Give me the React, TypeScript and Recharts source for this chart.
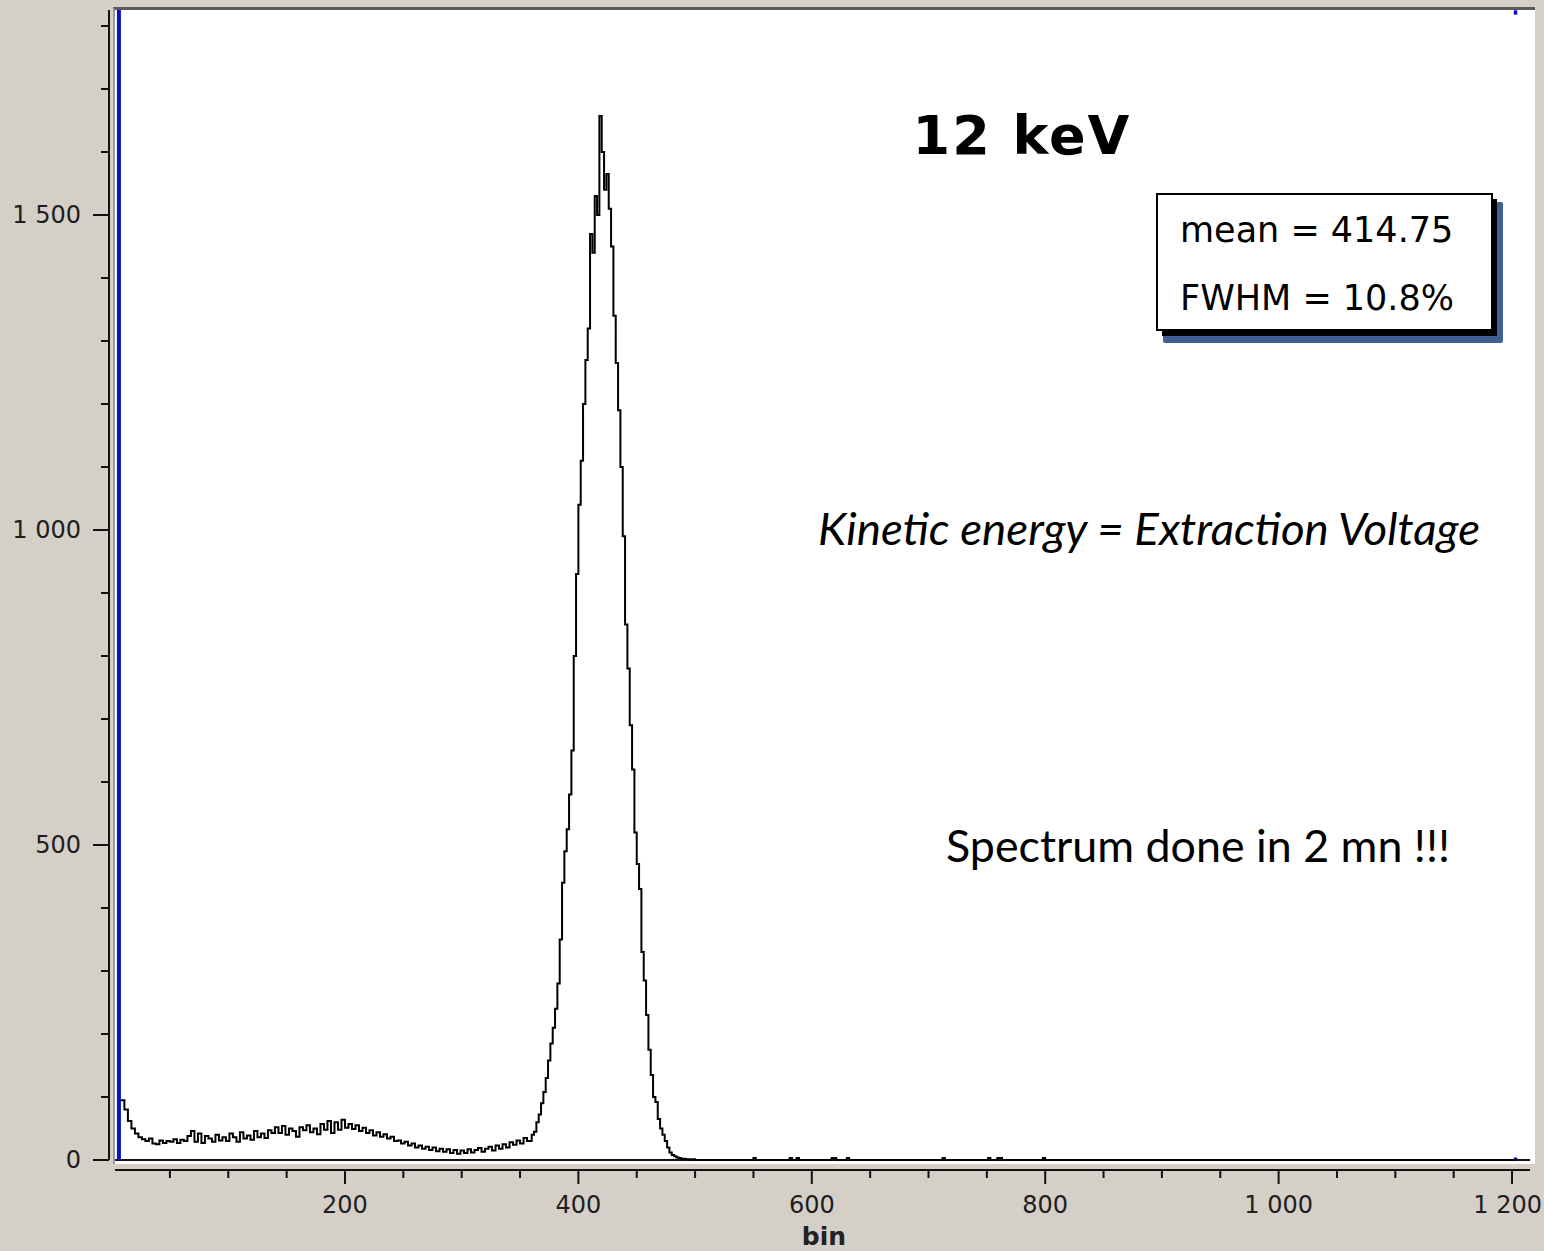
import React from 'react';
import { LineChart, Line, XAxis, YAxis, ReferenceLine, ReferenceArea } from 'recharts';

// low-energy tail, bins of 3 starting at bin 8
const lowStart = 8;
const lowWidth = 3;
const lowCounts = [
  95, 80, 62, 50, 42, 36, 33, 30, 34, 26, 25, 31, 27, 30, 29, 33, 27, 32, 30, 38,
  46, 29, 42, 27, 38, 34, 29, 40, 31, 36, 30, 42, 36, 29, 44, 34, 39, 32, 46, 36,
  42, 35, 47, 43, 52, 43, 54, 40, 50, 46, 37, 52, 47, 55, 44, 50, 41, 57, 48, 62,
  43, 60, 48, 64, 51, 57, 49, 55, 46, 51, 43, 47, 39, 44, 37, 41, 34, 37, 30, 31,
  26, 29, 23, 26, 20, 23, 18, 21, 16, 20, 14, 18, 13, 17, 11, 16, 10, 15, 11, 17,
  12, 16, 19, 13, 18, 21, 15, 23, 18, 25, 20, 28, 24, 31, 26, 35, 30,
];

// photopeak, bins of 2 starting at bin 360
const peakStart = 360;
const peakWidth = 2;
const peakCounts = [
  40, 45, 60, 72, 90, 108, 130, 158, 185, 210, 240, 280, 350, 440, 490, 525, 580, 650, 800, 930,
  1040, 1110, 1200, 1270, 1320, 1470, 1440, 1530, 1500, 1657, 1600, 1540, 1565, 1510, 1450, 1340, 1265, 1190, 1100, 990,
  850, 780, 690, 620, 520, 470, 430, 330, 285, 230, 175, 135, 100, 92, 65, 50, 40, 30, 20, 12,
  8, 6, 4, 3, 2, 2, 1, 1, 0, 1, 0,
];

// sparse high-energy counts
const tailBins = [502, 550, 552, 581, 583, 587, 589, 617, 621, 630, 632, 712, 714, 751, 753, 759, 763, 798, 800, 1202];
const tailCounts = [0, 3, 0, 3, 0, 3, 0, 3, 0, 3, 0, 3, 0, 3, 0, 3, 0, 3, 0, 0];

const xTicks = [50, 100, 150, 200, 250, 300, 350, 400, 450, 500, 550, 600, 650, 700, 750, 800, 850, 900, 950, 1000, 1050, 1100, 1150, 1200];
const xLabels = [200, 400, 600, 800, 1000, 1200];
const yTicks = [0, 100, 200, 300, 400, 500, 600, 700, 800, 900, 1000, 1100, 1200, 1300, 1400, 1500, 1600, 1700, 1800];
const yLabels = [0, 500, 1000, 1500];

const X_MIN = -2.2;
const X_MAX = 1215.4;
const Y_MIN = -15.9;
const Y_MAX = 1825.4;

const data = [
  ...lowCounts.map((c, i) => ({ bin: lowStart + i * lowWidth, count: c })),
  ...peakCounts.map((c, i) => ({ bin: peakStart + i * peakWidth, count: c })),
  ...tailBins.map((b, i) => ({ bin: b, count: tailCounts[i] })),
];

const fmt = (n: number) =>
  n >= 1000 ? `${Math.floor(n / 1000)} ${String(n % 1000).padStart(3, '0')}` : String(n);

const tickFont = '"DejaVu Sans", Verdana, sans-serif';

function XTick(props: any) {
  const { x, y, payload } = props;
  const major = xLabels.includes(payload.value);
  const last = payload.value === xLabels[xLabels.length - 1];
  return (
    <g>
      <line x1={x} x2={x} y1={y} y2={y + (major ? 14 : 8)} stroke="#111" strokeWidth={2} />
      {major && (
        <text
          x={last ? 1542 : x}
          y={y + 43}
          textAnchor={last ? 'end' : 'middle'}
          fontFamily={tickFont}
          fontSize={24}
          fill="#1e1e1e"
        >
          {fmt(payload.value)}
        </text>
      )}
    </g>
  );
}

function YTick(props: any) {
  const { x, y, payload } = props;
  const major = yLabels.includes(payload.value);
  return (
    <g>
      <line x1={x - (major ? 16 : 8)} x2={x} y1={y} y2={y} stroke="#111" strokeWidth={2} />
      {major && (
        <text x={x - 28} y={y + 8} textAnchor="end" fontFamily={tickFont} fontSize={24} fill="#1e1e1e">
          {fmt(payload.value)}
        </text>
      )}
    </g>
  );
}

export default function App() {
  return (
    <div style={{ position: 'absolute', left: 0, top: 0, width: 1544, height: 1251, background: '#d4d0c8', overflow: 'hidden' }}>
      <div
        style={{
          position: 'absolute',
          left: 113,
          top: 7,
          width: 1422,
          height: 1157,
          background: '#fff',
          borderTop: '3px solid #5c5c5c',
          borderLeft: '2px solid #9a9a9a',
          boxSizing: 'border-box',
        }}
      />
      <div style={{ position: 'absolute', left: 0, top: 0 }}>
        <LineChart width={1544} height={1251} data={data} margin={{ top: 10, right: 14, bottom: 0, left: 0 }}>
          <XAxis
            dataKey="bin"
            type="number"
            domain={[X_MIN, X_MAX]}
            allowDataOverflow
            ticks={xTicks}
            interval={0}
            height={81}
            axisLine={false}
            tickLine={false}
            tickSize={0}
            tickMargin={0}
            tick={XTick}
          />
          <YAxis
            type="number"
            domain={[Y_MIN, Y_MAX]}
            allowDataOverflow
            ticks={yTicks}
            interval={0}
            width={109}
            axisLine={false}
            tickLine={false}
            tickSize={0}
            tickMargin={0}
            tick={YTick}
          />
          <ReferenceLine segment={[{ x: X_MIN, y: 0 }, { x: X_MIN, y: Y_MAX }]} stroke="#111" strokeWidth={2} ifOverflow="visible" />
          <ReferenceLine segment={[{ x: 3, y: Y_MIN }, { x: X_MAX, y: Y_MIN }]} stroke="#111" strokeWidth={2} ifOverflow="visible" />
          <ReferenceLine segment={[{ x: 3, y: 0 }, { x: X_MAX, y: 0 }]} stroke="#111" strokeWidth={2} ifOverflow="visible" />
          <ReferenceLine segment={[{ x: 6.3, y: 0 }, { x: 6.3, y: Y_MAX }]} stroke="#0a10c8" strokeWidth={4} ifOverflow="visible" />
          <ReferenceArea x1={1201.5} x2={1204.5} y1={-1} y2={4} fill="#0a10c8" fillOpacity={1} stroke="none" ifOverflow="visible" />
          <ReferenceArea x1={1201.5} x2={1204.5} y1={1818} y2={1825} fill="#0a10c8" fillOpacity={1} stroke="none" ifOverflow="visible" />
          <Line
            type="stepAfter"
            dataKey="count"
            stroke="#000"
            strokeWidth={2}
            dot={false}
            isAnimationActive={false}
          />
        </LineChart>
      </div>
      <svg width={1544} height={1251} style={{ position: 'absolute', left: 0, top: 0, pointerEvents: 'none' }}>
        <text x={1022} y={154} textAnchor="middle" fontFamily='"DejaVu Sans", Verdana, sans-serif' fontWeight="bold" fontSize={54} letterSpacing={2} fill="#000">
          12 keV
        </text>
        <rect x={1163} y={202} width={340} height={141} fill="#3f6191" rx={2} />
        <rect x={1162} y={199} width={335} height={137} fill="#000" />
        <rect x={1157} y={194} width={335} height={136} fill="#fff" stroke="#000" strokeWidth={2} />
        <text x={1180} y={242} fontFamily='"DejaVu Sans", Verdana, sans-serif' fontSize={35} fill="#000">
          mean = 414.75
        </text>
        <text x={1180} y={310} fontFamily='"DejaVu Sans", Verdana, sans-serif' fontSize={35} fill="#000">
          FWHM = 10.8%
        </text>
        <text x={818} y={545} fontFamily="Lato, 'Open Sans', sans-serif" fontStyle="italic" fontSize={44} fill="#000" textLength={662} lengthAdjust="spacingAndGlyphs">
          Kinetic energy = Extraction Voltage
        </text>
        <text x={946} y={862} fontFamily="Lato, 'Open Sans', sans-serif" fontSize={44} fill="#000" textLength={504} lengthAdjust="spacingAndGlyphs">
          Spectrum done in 2 mn !!!
        </text>
        <text x={824} y={1245} textAnchor="middle" fontFamily='"DejaVu Sans", Verdana, sans-serif' fontWeight="bold" fontSize={25} fill="#222">
          bin
        </text>
      </svg>
    </div>
  );
}
